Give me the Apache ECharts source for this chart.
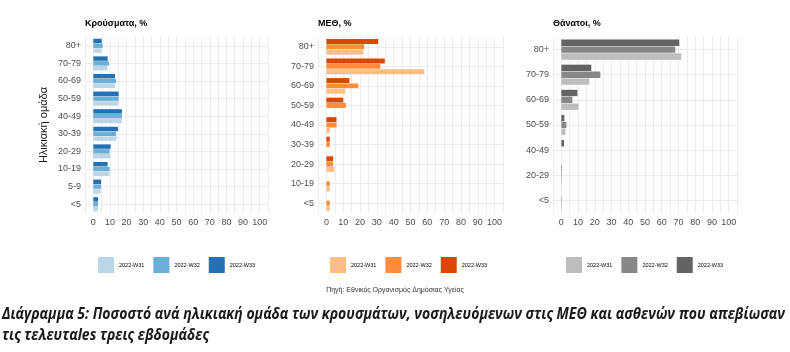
<!DOCTYPE html>
<html><head><meta charset="utf-8">
<script src="https://cdn.jsdelivr.net/npm/echarts@6/dist/echarts.min.js"></script>
<style>html,body{margin:0;padding:0;background:#fff}#c{width:790px;height:352px}</style>
</head><body><div id="c"></div>
<script>
// ---- Data ----
const weeks = ['2022-W31', '2022-W32', '2022-W33'];
const xTicks = [0, 10, 20, 30, 40, 50, 60, 70, 80, 90, 100];

const casesAges = ['80+', '70-79', '60-69', '50-59', '40-49', '30-39', '20-29', '10-19', '5-9', '<5'];
const casesW31 = [5.0, 8.6, 13.0, 15.2, 17.2, 14.0, 10.2, 9.8, 4.4, 2.8];
const casesW32 = [5.6, 9.4, 13.6, 15.2, 17.2, 13.6, 9.8, 9.8, 4.6, 2.8];
const casesW33 = [5.0, 8.6, 13.0, 15.2, 17.2, 14.8, 10.4, 8.6, 4.6, 2.8];

const icuAges = ['80+', '70-79', '60-69', '50-59', '40-49', '30-39', '20-29', '10-19', '<5'];
const icuW31 = [22.0, 58.2, 11.2, 0, 2.0, 0, 4.8, 2.0, 2.0];
const icuW32 = [22.5, 32.0, 19.0, 11.6, 6.0, 2.0, 4.0, 2.0, 2.0];
const icuW33 = [30.8, 34.7, 13.7, 10.0, 6.0, 2.0, 4.0, 0, 0];

const deathAges = ['80+', '70-79', '60-69', '50-59', '40-49', '20-29', '<5'];
const deathW31 = [71.7, 16.7, 10.2, 2.4, 0, 0.3, 0.3];
const deathW32 = [68.1, 23.3, 6.6, 3.0, 0, 0.3, 0.3];
const deathW33 = [70.5, 17.9, 9.6, 1.8, 1.6, 0.3, 0];

const titles = ['Κρούσματα, %', 'ΜΕΘ, %', 'Θάνατοι, %'];
const yName = 'Ηλικιακή ομάδα';
const source = 'Πηγή: Εθνικός Οργανισμός Δημόσιας Υγείας';
const caption1 = 'Διάγραμμα 5: Ποσοστό ανά ηλικιακή ομάδα των κρουσμάτων, νοσηλευόμενων στις ΜΕΘ και ασθενών που απεβίωσαν';
const caption2 = 'τις τελευταles τρεις εβδομάδες';

// ---- Styling / layout ----
const FONT = 'Liberation Sans, Arial, sans-serif';
const CAP_FONT = 'Open Sans';
const CAP_SIZE = 16;
const panels = [
  {cats: casesAges, vals: [casesW31, casesW32, casesW33], colors: ['#bad6e8', '#6baed6', '#2470b3'], left: 85, width: 183, legendLeft: 98, prefix: 'a|'},
  {cats: icuAges, vals: [icuW31, icuW32, icuW33], colors: ['#fdbe85', '#fd8d3c', '#d94801'], left: 318, width: 185, legendLeft: 330, prefix: 'b|'},
  {cats: deathAges, vals: [deathW31, deathW32, deathW33], colors: ['#bdbdbd', '#878787', '#636363'], left: 553, width: 184, legendLeft: 566, prefix: 'c|'}
];

// condense caption to the reference width
const mctx = document.createElement('canvas').getContext('2d');
mctx.font = 'italic bold ' + CAP_SIZE + 'px "' + CAP_FONT + '"';
const capScale = 783 / mctx.measureText(caption1).width;

const option = {
  animation: false,
  backgroundColor: '#fff',
  textStyle: {fontFamily: FONT},
  title: [],
  legend: [],
  grid: [],
  xAxis: [],
  yAxis: [],
  series: [],
  graphic: []
};

panels.forEach((p, i) => {
  option.title.push({text: titles[i], left: p.left, top: 19, padding: 0,
    textStyle: {fontSize: 9, fontWeight: 'bold', color: '#000', fontFamily: FONT}});
  option.grid.push({left: p.left, width: p.width, top: 37, bottom: 139});
  option.xAxis.push({
    type: 'value', gridIndex: i, min: -5, max: 105, interval: 5,
    axisLine: {show: false}, axisTick: {show: false},
    axisLabel: {margin: 5, fontSize: 9, color: '#4d4d4d', fontFamily: FONT,
      formatter: v => (xTicks.indexOf(v) >= 0 ? String(v) : '')},
    splitLine: {show: true, lineStyle: {color: '#ebebeb', width: 1}}
  });
  const ya = {
    type: 'category', gridIndex: i, data: p.cats, inverse: true,
    axisLine: {show: false}, axisTick: {show: false},
    axisLabel: {margin: 4, fontSize: 9, color: '#4d4d4d', fontFamily: FONT},
    splitLine: {show: false}
  };
  if (i === 0) {
    ya.name = yName; ya.nameLocation = 'middle'; ya.nameGap = 36; ya.nameRotate = 90;
    ya.nameTextStyle = {fontSize: 11, color: '#1a1a1a', fontFamily: FONT};
  }
  option.yAxis.push(ya);
  // horizontal grid lines at category centers (behind bars)
  option.series.push({
    type: 'line', xAxisIndex: i, yAxisIndex: i, data: p.cats.map(() => null), z: 1, silent: true,
    symbol: 'none',
    markLine: {silent: true, z: 1, symbol: 'none', label: {show: false}, animation: false,
      lineStyle: {color: '#ebebeb', type: 'solid', width: 1},
      data: p.cats.map(c => ({yAxis: c}))}
  });
  // bars: W33 first (top), then W32, W31
  [2, 1, 0].forEach(k => {
    option.series.push({
      name: p.prefix + weeks[k], type: 'bar', xAxisIndex: i, yAxisIndex: i, z: 3,
      data: p.vals[k], barCategoryGap: '20%', barGap: '8%',
      itemStyle: {color: p.colors[k]}
    });
  });
  option.legend.push({
    left: p.legendLeft, top: 257, orient: 'horizontal', padding: 0,
    itemWidth: 16, itemHeight: 16, itemGap: 9, icon: 'rect', selectedMode: false,
    data: weeks.map(w => p.prefix + w),
    formatter: n => n.split('|')[1],
    textStyle: {fontSize: 5.5, color: '#000', fontFamily: FONT}
  });
});

option.graphic.push(
  {type: 'text', left: 'center', top: 287, style: {text: source, fontSize: 7, fill: '#333', fontFamily: FONT}},
  {type: 'text', x: 2, y: 306, scaleX: capScale, style: {text: caption1, fontSize: CAP_SIZE, fontWeight: 'bold', fontStyle: 'italic', fill: '#1a1a1a', fontFamily: CAP_FONT, verticalAlign: 'top'}},
  {type: 'text', x: 2, y: 327, scaleX: capScale, style: {text: caption2, fontSize: CAP_SIZE, fontWeight: 'bold', fontStyle: 'italic', fill: '#1a1a1a', fontFamily: CAP_FONT, verticalAlign: 'top'}}
);

const chart = echarts.init(document.getElementById('c'), null, {renderer: 'canvas'});
chart.setOption(option);
</script>
</body></html>
